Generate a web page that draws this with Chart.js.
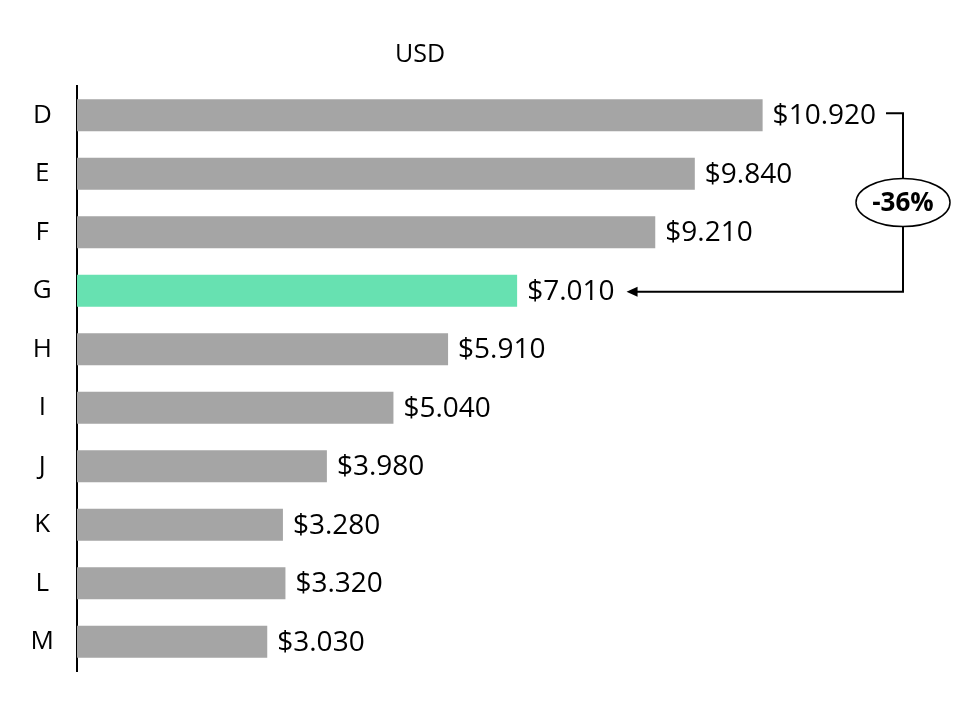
<!DOCTYPE html>
<html>
<head>
<meta charset="utf-8">
<script src="https://cdn.jsdelivr.net/npm/chart.js@4"></script>
<style>
  html, body { margin: 0; padding: 0; background: #fff; }
  #wrap { width: 970px; height: 702px; }
</style>
</head>
<body>
<div id="wrap"><canvas id="usdChart" width="970" height="702"></canvas></div>
<script>
let categories = ["D", "E", "F", "G", "H", "I", "J", "K", "L", "M"];
let usdValues = [10.92, 9.84, 9.21, 7.01, 5.91, 5.04, 3.98, 3.28, 3.32, 3.03];
let highlightIndex = 3;
let changeLabel = "-36%";
let titleText = "USD";

let font = "'Open Sans', 'Liberation Sans', sans-serif";
let grey = "#a5a5a5";
let green = "#67e1b1";

let barColors = categories.map((c, i) => (i === highlightIndex ? green : grey));

function fmt(v) {
    return "$" + v.toFixed(3);
}

// value labels, title, and the bracket with the percentage
let decorations = {
    id: "decorations",
    afterDatasetsDraw(chart) {
        let ctx = chart.ctx;
        let meta = chart.getDatasetMeta(0);
        let labelEnds = [];
        ctx.save();
        ctx.font = "28px " + font;
        ctx.fillStyle = "#000";
        ctx.textBaseline = "middle";
        ctx.textAlign = "left";
        meta.data.forEach((bar, i) => {
            let txt = fmt(usdValues[i]);
            let x = bar.x + 10;
            ctx.fillText(txt, x, bar.y + 1);
            labelEnds.push(x + ctx.measureText(txt).width);
        });

        // title
        ctx.textAlign = "center";
        ctx.font = "25px " + font;
        ctx.fillText(titleText, 420, 55);

        // bracket
        let top = meta.data[0];
        let low = meta.data[highlightIndex];
        let vx = 903;
        let y1 = top.y - 2;
        let y2 = low.y + 1;
        let tip = labelEnds[highlightIndex] + 12;
        ctx.strokeStyle = "#000";
        ctx.lineWidth = 2;
        ctx.beginPath();
        ctx.moveTo(Math.min(labelEnds[0] + 10, vx - 12), y1);
        ctx.lineTo(vx, y1);
        ctx.lineTo(vx, y2);
        ctx.lineTo(tip + 9, y2);
        ctx.stroke();
        ctx.fillStyle = "#000";
        ctx.beginPath();
        ctx.moveTo(tip, y2);
        ctx.lineTo(tip + 11, y2 - 5);
        ctx.lineTo(tip + 11, y2 + 5);
        ctx.closePath();
        ctx.fill();

        let cy = (y1 + y2) / 2;
        ctx.beginPath();
        ctx.ellipse(vx, cy, 47, 24, 0, 0, Math.PI * 2);
        ctx.fillStyle = "#fff";
        ctx.fill();
        ctx.lineWidth = 1.5;
        ctx.stroke();
        ctx.fillStyle = "#000";
        ctx.font = "bold 26px " + font;
        ctx.textAlign = "center";
        ctx.fillText(changeLabel, vx, cy + 1);
        ctx.restore();
    },
};

let usdCtx = document.getElementById("usdChart").getContext("2d");

let usdChart = new Chart(usdCtx, {
    type: "bar",
    data: {
        labels: categories,
        datasets: [
            {
                label: "USD",
                data: usdValues,
                backgroundColor: barColors,
                borderWidth: 0,
                barPercentage: 0.55,
                categoryPercentage: 1,
            },
        ],
    },
    options: {
        indexAxis: "y",
        responsive: false,
        animation: false,
        layout: {
            padding: { top: 86, bottom: 31, left: 0, right: 14 },
        },
        plugins: {
            legend: { display: false },
            tooltip: { enabled: false },
        },
        scales: {
            x: {
                display: false,
                min: 0,
                max: 14,
                grid: { display: false },
            },
            y: {
                grid: { display: false, drawTicks: false },
                border: { display: true, color: "#000", width: 2 },
                afterFit(scale) {
                    scale.width = 77;
                    scale.paddingTop = 0;
                    scale.paddingBottom = 0;
                },
                ticks: {
                    color: "#000",
                    padding: 23,
                    crossAlign: "center",
                    font: { family: font, size: 26 },
                },
            },
        },
    },
    plugins: [decorations],
});
</script>
</body>
</html>
